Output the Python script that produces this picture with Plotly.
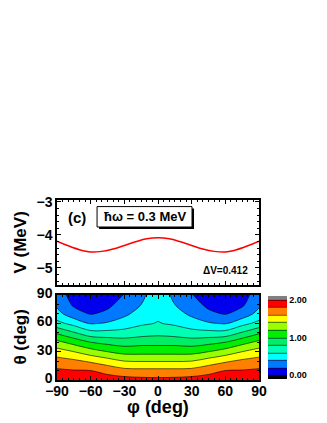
import plotly.graph_objects as go

# top panel: potential curve V(phi)
phi_line = [-90, -80, -70, -60, -50, -40, -30, -20, -10, 0, 10, 20, 30, 40, 50, 60, 70, 80, 90]
v_line = [-4.19, -4.33, -4.45, -4.52, -4.50, -4.43, -4.32, -4.21, -4.12, -4.09,
          -4.12, -4.21, -4.32, -4.43, -4.50, -4.52, -4.45, -4.33, -4.19]

# bottom panel: contour map, rows = theta, columns = phi
phi_grid = [-90, -75, -60, -45, -30, -15, 0, 15, 30, 45, 60, 75, 90]
theta_grid = [0, 10, 20, 30, 40, 50, 60, 70, 80, 90]
z_rows = [
    [1.95, 1.92, 1.90, 1.90, 1.88, 1.86, 1.85, 1.86, 1.88, 1.90, 1.90, 1.92, 1.95],
    [1.83, 1.81, 1.80, 1.73, 1.66, 1.65, 1.65, 1.65, 1.66, 1.73, 1.80, 1.81, 1.83],
    [1.68, 1.64, 1.57, 1.49, 1.40, 1.39, 1.39, 1.39, 1.40, 1.49, 1.57, 1.64, 1.68],
    [1.49, 1.40, 1.29, 1.20, 1.13, 1.13, 1.13, 1.13, 1.13, 1.20, 1.29, 1.40, 1.49],
    [1.25, 1.13, 1.00, 0.94, 0.90, 0.93, 0.93, 0.93, 0.90, 0.94, 1.00, 1.13, 1.25],
    [0.97, 0.82, 0.67, 0.66, 0.67, 0.71, 0.74, 0.71, 0.67, 0.66, 0.67, 0.82, 0.97],
    [0.66, 0.53, 0.38, 0.42, 0.49, 0.57, 0.61, 0.57, 0.49, 0.42, 0.38, 0.53, 0.66],
    [0.47, 0.28, 0.19, 0.24, 0.36, 0.48, 0.56, 0.48, 0.36, 0.24, 0.19, 0.28, 0.47],
    [0.36, 0.17, 0.12, 0.16, 0.27, 0.40, 0.52, 0.40, 0.27, 0.16, 0.12, 0.17, 0.36],
    [0.30, 0.12, 0.05, 0.10, 0.21, 0.36, 0.50, 0.36, 0.21, 0.10, 0.05, 0.12, 0.30],
]

band_colors = ['#000000', '#0000EE', '#0078FF', '#00FFFF', '#00FFB4', '#00EE66',
               '#00EE00', '#99FF00', '#FFFF00', '#FF8000', '#FF0000', '#808080']
colorscale = [[i / (len(band_colors) - 1), c] for i, c in enumerate(band_colors)]

FONT = 'Arial'

fig = go.Figure()

fig.add_trace(go.Scatter(x=phi_line, y=v_line, mode='lines', line=dict(color='#FF0000', width=1.5, shape='spline'),
                         xaxis='x', yaxis='y', showlegend=False))

fig.add_trace(go.Contour(
    x=phi_grid, y=theta_grid, z=z_rows, xaxis='x2', yaxis='y2',
    colorscale=colorscale, autocontour=False,
    contours=dict(start=0, end=2, size=0.2, coloring='fill'),
    line=dict(color='black', width=0.6, smoothing=1.0),
    colorbar=dict(x=1.045, xanchor='left', y=0.236, yanchor='middle', len=83, lenmode='pixels',
                  thickness=19, xpad=0, ypad=0, outlinewidth=0,
                  tickvals=[0, 1, 2], ticktext=['0.00', '1.00', '2.00'], ticks='',
                  tickfont=dict(family=FONT, size=9, color='black', weight='bold')),
))

axis_common = dict(showline=True, linecolor='black', linewidth=1.5, mirror='allticks', ticks='inside',
                   ticklen=4, tickcolor='black', showgrid=False, zeroline=False,
                   tickfont=dict(family=FONT, size=14, color='black', weight='bold'))

# page body keeps an 8px margin, so the figure is shrunk by that much
fig.update_layout(
    width=319, height=415,
    margin=dict(l=49, r=68, t=192, b=43),
    paper_bgcolor='white', plot_bgcolor='white',
    xaxis=dict(domain=[0, 1], range=[-90, 90], anchor='y', showticklabels=False, dtick=30,
               minor=dict(dtick=5, ticks='inside', ticklen=2, tickcolor='black'), **axis_common),
    yaxis=dict(domain=[0.528, 1], range=[-5.52, -2.94], anchor='x', tickvals=[-5, -4, -3],
               minor=dict(dtick=0.2, ticks='inside', ticklen=2, tickcolor='black'), **axis_common),
    xaxis2=dict(domain=[0, 1], range=[-90, 90], anchor='y2', tickvals=[-90, -60, -30, 0, 30, 60, 90],
                ticklabelstandoff=-3,
                minor=dict(dtick=5, ticks='inside', ticklen=2, tickcolor='black'), **axis_common),
    yaxis2=dict(domain=[0, 0.472], range=[0, 90], anchor='x2', tickvals=[0, 30, 60, 90],
                ticklabelshift=-2,
                minor=dict(dtick=10, ticks='inside', ticklen=2, tickcolor='black'), **axis_common),
)

# label box with drop shadow
fig.add_shape(type='rect', xref='x', yref='y', x0=-52.5, x1=32.1, y0=-3.82, y1=-3.20,
              fillcolor='black', line=dict(width=0), layer='above')
fig.add_shape(type='rect', xref='x', yref='y', x0=-54.3, x1=30.3, y0=-3.76, y1=-3.14,
              fillcolor='white', line=dict(color='black', width=1), layer='above')

bold = dict(family=FONT, color='black', weight='bold')
fig.add_annotation(x=-12, y=-3.45, xref='x', yref='y', text='ħω = 0.3 MeV', showarrow=False,
                   font=dict(size=13, **bold))
fig.add_annotation(x=-72.5, y=-3.48, xref='x', yref='y', text='(c)', showarrow=False,
                   font=dict(size=15, **bold))
fig.add_annotation(x=60, y=-5.08, xref='x', yref='y', text='ΔV=0.412', showarrow=False,
                   font=dict(size=10, **bold))

fig.add_annotation(x=-0.183, y=0.764, xref='paper', yref='paper', text='V (MeV)', textangle=-90,
                   xanchor='center', yanchor='middle', showarrow=False, font=dict(size=17, **bold))
fig.add_annotation(x=-0.183, y=0.236, xref='paper', yref='paper', text='θ (deg)', textangle=-90,
                   xanchor='center', yanchor='middle', showarrow=False, font=dict(size=17, **bold))
fig.add_annotation(x=0.5, y=-0.15, xref='paper', yref='paper', text='φ (deg)',
                   xanchor='center', yanchor='middle', showarrow=False, font=dict(size=18, **bold))

fig.write_html("out.html")
